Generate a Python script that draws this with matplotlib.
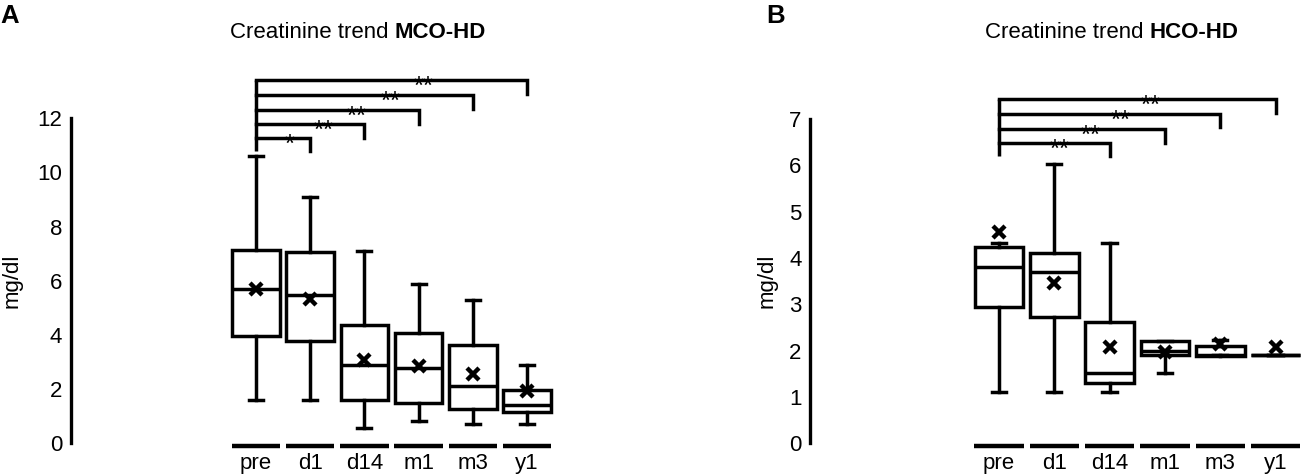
import matplotlib
matplotlib.use("Agg")
import matplotlib.pyplot as plt

plt.rcParams['font.family'] = ['Liberation Sans', 'DejaVu Sans']

W, H = 1302, 474
categories = ["pre", "d1", "d14", "m1", "m3", "y1"]

# Panel A (MCO-HD)
a_whislo = [1.59, 1.59, 0.58, 0.81, 0.70, 0.70]
a_q1     = [3.95, 3.77, 1.59, 1.50, 1.28, 1.16]
a_med    = [5.69, 5.49, 2.90, 2.79, 2.10, 1.40]
a_q3     = [7.15, 7.06, 4.36, 4.07, 3.64, 1.96]
a_whishi = [10.6, 9.10, 7.09, 5.90, 5.30, 2.90]
a_mean   = [5.70, 5.33, 3.06, 2.85, 2.55, 1.92]
a_sig    = ["*", "**", "**", "**", "**"]   # pre vs d1, d14, m1, m3, y1
a_yticks = [0, 2, 4, 6, 8, 10, 12]

# Panel B (HCO-HD)
b_whislo = [1.10, 1.10, 1.10, 1.51, 1.91, 1.91]
b_q1     = [2.95, 2.72, 1.31, 1.91, 1.89, 1.91]
b_med    = [3.81, 3.70, 1.51, 2.00, 1.91, 1.91]
b_q3     = [4.24, 4.11, 2.61, 2.21, 2.09, 1.91]
b_whishi = [4.32, 6.02, 4.32, 2.21, 2.22, 1.91]
b_mean   = [4.57, 3.47, 2.07, 1.96, 2.15, 2.08]
b_sig    = ["**", "**", "**", "**"]        # pre vs d14, m1, m3, y1
b_yticks = [0, 1, 2, 3, 4, 5, 6, 7]


def rect(x0px, sx, xlim, y0px, sy, ylim):
    left = x0px + sx * xlim[0]
    right = x0px + sx * xlim[1]
    bot = y0px - sy * ylim[0]
    top = y0px - sy * ylim[1]
    return [left / W, (H - bot) / H, (right - left) / W, (bot - top) / H]


fig = plt.figure(figsize=(W / 100, H / 100), dpi=100)

LW = 2.5
FS = 16


def panel(ax, whislo, q1, med, q3, whishi, mean, yticks, xlim, ylim,
          sig, targets, bar_levels, leg, frac, ylabelpad):
    stats = []
    for i in range(len(categories)):
        stats.append(dict(whislo=whislo[i], q1=q1[i], med=med[i], q3=q3[i],
                          whishi=whishi[i], mean=mean[i], fliers=[],
                          label=categories[i]))
    pos = list(range(len(categories)))
    ax.bxp(stats, positions=pos, widths=0.88, showmeans=True,
           showfliers=False, patch_artist=True, capwidths=0.26,
           boxprops=dict(facecolor='white', edgecolor='black', linewidth=LW),
           medianprops=dict(color='black', linewidth=LW),
           whiskerprops=dict(color='black', linewidth=LW),
           capprops=dict(color='black', linewidth=LW),
           meanprops=dict(marker='x', markeredgecolor='black',
                          markersize=8.5, markeredgewidth=3.2))
    ax.set_xlim(*xlim)
    ax.set_ylim(*ylim)
    for s in ['top', 'right', 'bottom']:
        ax.spines[s].set_visible(False)
    ax.spines['left'].set_linewidth(2.4)
    ax.spines['left'].set_bounds(yticks[0], yticks[-1])
    ax.set_yticks(yticks)
    ax.set_yticklabels([str(t) for t in yticks])
    ax.tick_params(axis='y', length=0, pad=6, labelsize=FS)
    ax.tick_params(axis='x', length=0, pad=0.5, labelsize=FS)
    ax.set_xticks(pos)
    ax.set_xticklabels(categories)
    ax.set_ylabel("mg/dl", fontsize=FS, labelpad=ylabelpad)
    mid = (yticks[0] + yticks[-1]) / 2
    ax.yaxis.label.set_y((mid - ylim[0]) / (ylim[1] - ylim[0]))
    # category underline segments
    ybase = ylim[0] * 0.3
    for p in pos:
        ax.plot([p - 0.445, p + 0.445], [ybase, ybase], color='black',
                lw=3.2, solid_capstyle='butt', clip_on=False)
    # significance brackets (all from "pre")
    top = max(bar_levels)
    ax.plot([0, 0], [bar_levels[0] - leg, top], color='black', lw=LW,
            solid_capstyle='butt', clip_on=False)
    for t, lvl, s in zip(targets, bar_levels, sig):
        ax.plot([0, t, t], [lvl, lvl, lvl - leg], color='black', lw=LW,
                solid_joinstyle='miter', clip_on=False)
        ax.annotate(s, xy=(t * frac, lvl), xytext=(0, -10),
                    textcoords='offset points', ha='center', va='baseline',
                    fontsize=18.5)


# Panel A
xlimA = (-3.42, 5.5)
ylimA = (-0.35, 13.6)
axA = fig.add_axes(rect(256, 54.2, xlimA, 443.3, 27.08, ylimA))
panel(axA, a_whislo, a_q1, a_med, a_q3, a_whishi, a_mean, a_yticks,
      xlimA, ylimA, a_sig, [1, 2, 3, 4, 5],
      [11.29, 11.78, 12.30, 12.85, 13.40], 0.5, 0.62, 10.5)

# Panel B
xlimB = (-3.42, 5.48)
ylimB = (-0.2, 7.9)
axB = fig.add_axes(rect(999, 55.3, xlimB, 443.3, 46.33, ylimB))
panel(axB, b_whislo, b_q1, b_med, b_q3, b_whishi, b_mean, b_yticks,
      xlimB, ylimB, b_sig, [2, 3, 4, 5],
      [6.49, 6.78, 7.11, 7.43], 0.29, 0.55, 8.5)

# Titles: regular part + bold part, centred as a whole
renderer = fig.canvas.get_renderer()
TFS = 16


def title(cx_px, base_px, normal, bold):
    t1 = fig.text(0, 1 - base_px / H, normal, ha='left', va='baseline',
                  fontsize=TFS)
    t2 = fig.text(0, 1 - base_px / H, bold, ha='left', va='baseline',
                  fontsize=TFS, fontweight='bold')
    w1 = t1.get_window_extent(renderer).width
    w2 = t2.get_window_extent(renderer).width
    x0 = cx_px - (w1 + w2) / 2
    t1.set_x(x0 / W)
    t2.set_x((x0 + w1) / W)


title(357.5, 38, "Creatinine trend ", "MCO-HD")
title(1111.5, 38, "Creatinine trend ", "HCO-HD")

fig.text(0 / W, 1 - 23 / H, "A", ha='left', va='baseline', fontsize=18.5,
         fontweight='bold')
fig.text(766 / W, 1 - 23 / H, "B", ha='left', va='baseline', fontsize=18.5,
         fontweight='bold')

fig.savefig("out.png", dpi=100)
